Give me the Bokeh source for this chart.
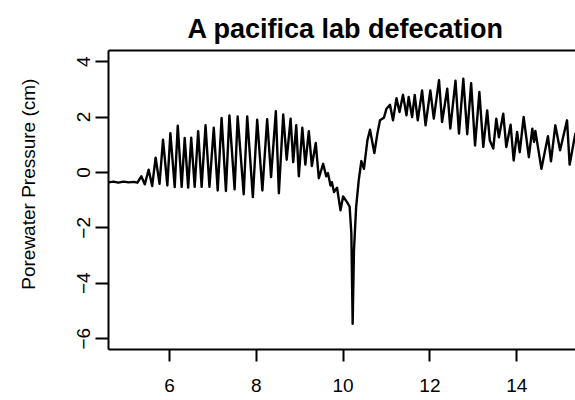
from bokeh.plotting import figure
from bokeh.models import Range1d, LinearAxis, FixedTicker
from bokeh.embed import file_html
from bokeh.resources import INLINE

# time (x) and porewater pressure (cm)
time_min = [4.59, 4.71, 4.82, 4.94, 5.06, 5.17, 5.26, 5.35, 5.43, 5.52,
            5.60, 5.68, 5.77, 5.85, 5.95, 6.02, 6.12, 6.19, 6.28, 6.35,
            6.43, 6.50, 6.58, 6.66, 6.74, 6.83, 6.92, 7.02, 7.11, 7.20,
            7.30, 7.38, 7.50, 7.57, 7.71, 7.79, 7.92, 8.02, 8.14, 8.25,
            8.34, 8.45, 8.52, 8.62, 8.70, 8.79, 8.85, 8.92, 8.98, 9.06,
            9.13, 9.21, 9.28, 9.37, 9.44, 9.54, 9.61, 9.65, 9.71, 9.74,
            9.79, 9.86, 9.94, 10.00, 10.09, 10.15, 10.19, 10.22, 10.25, 10.30,
            10.36, 10.42, 10.48, 10.56, 10.62, 10.72, 10.79, 10.85, 10.94, 11.00,
            11.08, 11.15, 11.23, 11.30, 11.38, 11.46, 11.51, 11.59, 11.65, 11.72,
            11.82, 11.90, 12.01, 12.09, 12.21, 12.28, 12.40, 12.47, 12.59, 12.67,
            12.77, 12.86, 12.95, 13.04, 13.14, 13.23, 13.32, 13.38, 13.46, 13.53,
            13.59, 13.69, 13.76, 13.86, 13.93, 14.01, 14.07, 14.16, 14.28, 14.36,
            14.40, 14.43, 14.57, 14.72, 14.79, 14.89, 15.00, 15.16, 15.22, 15.35]

pressure_cm = [-0.36, -0.33, -0.37, -0.33, -0.36, -0.34, -0.37, -0.14, -0.43, 0.10,
               -0.49, 0.53, -0.41, 1.18, -0.47, 1.42, -0.53, 1.69, -0.52, 1.24,
               -0.55, 1.25, -0.52, 1.49, -0.52, 1.70, -0.52, 1.61, -0.65, 1.97,
               -0.67, 2.06, -0.61, 2.02, -0.79, 2.02, -0.89, 1.90, -0.65, 1.92,
               -0.17, 2.21, -0.75, 2.09, 0.46, 1.94, 0.37, 1.70, -0.14, 1.61,
               0.28, 1.49, 0.23, 1.06, -0.21, 0.31, -0.14, -0.02, -0.47, -0.35,
               -0.71, -0.55, -1.37, -0.87, -1.07, -1.23, -2.20, -5.46, -2.82, -1.25,
               -0.29, 0.41, 0.13, 1.16, 1.54, 0.70, 1.40, 1.88, 1.97, 2.30,
               2.44, 1.88, 2.68, 2.18, 2.80, 2.06, 2.72, 2.00, 2.80, 1.88,
               2.96, 1.70, 2.96, 1.94, 3.33, 1.82, 3.02, 1.58, 3.31, 1.40,
               3.38, 1.38, 3.22, 0.97, 2.90, 0.92, 2.24, 1.16, 0.86, 1.94,
               1.27, 2.12, 0.92, 1.72, 0.43, 1.46, 0.73, 2.00, 0.55, 1.58,
               1.10, 1.50, 0.13, 1.31, 0.40, 1.70, 0.80, 1.88, 0.28, 1.40]

x_ticks = [6, 8, 10, 12, 14]
y_ticks = [-6, -4, -2, 0, 2, 4]

title_text = "A pacifica lab defecation"
y_label = "Porewater Pressure (cm)"

FONT = "Liberation Sans"

p = figure(width=575, height=400, output_backend="svg", toolbar_location=None,
           x_range=Range1d(4.594, 15.355), y_range=Range1d(-6.39, 4.40),
           min_border_left=108, min_border_right=0, min_border_top=50,
           min_border_bottom=51)

p.line(time_min, pressure_cm, line_color="black", line_width=2.4,
       line_join="round", line_cap="round")

p.xgrid.visible = False
p.ygrid.visible = False
p.outline_line_color = None
p.background_fill_color = "white"
p.border_fill_color = "white"

xa = p.xaxis[0]
xa.ticker = FixedTicker(ticks=x_ticks)
xa.axis_line_width = 2
xa.axis_line_color = "black"
xa.major_tick_line_width = 2
xa.major_tick_line_color = "black"
xa.major_tick_out = 12
xa.major_tick_in = 0
xa.minor_tick_out = 0
xa.minor_tick_in = 0
xa.major_label_standoff = 17
xa.major_label_text_font = FONT
xa.major_label_text_font_size = "19px"
xa.major_label_text_color = "black"

ya = p.yaxis[0]
ya.ticker = FixedTicker(ticks=y_ticks)
ya.axis_line_width = 2
ya.axis_line_color = "black"
ya.major_tick_line_width = 2
ya.major_tick_line_color = "black"
ya.major_tick_out = 13
ya.major_tick_in = 0
ya.minor_tick_out = 0
ya.minor_tick_in = 0
ya.major_label_orientation = "parallel"
ya.major_label_standoff = 5
ya.major_label_text_font = FONT
ya.major_label_text_font_size = "19px"
ya.major_label_text_color = "black"
# leading no-break spaces shift the centred label up, as in the reference
ya.axis_label = "\u00a0" * 6 + y_label
ya.axis_label_text_font = FONT
ya.axis_label_text_font_size = "19px"
ya.axis_label_text_font_style = "normal"
ya.axis_label_text_color = "black"
ya.axis_label_standoff = 36

top = LinearAxis(ticker=FixedTicker(ticks=[]), axis_line_width=2, axis_line_color="black",
                 major_tick_out=0, major_tick_in=0, minor_tick_out=0, minor_tick_in=0,
                 major_label_standoff=0, major_label_text_font_size="0px")
p.add_layout(top, "above")

p.title.text = title_text
p.title.text_font = FONT
p.title.text_font_size = "27px"
p.title.text_font_style = "bold"
p.title.text_color = "black"
p.title.align = "left"
p.title.offset = 79
p.title.standoff = 14

open("out.html", "w").write(file_html(p, INLINE))
